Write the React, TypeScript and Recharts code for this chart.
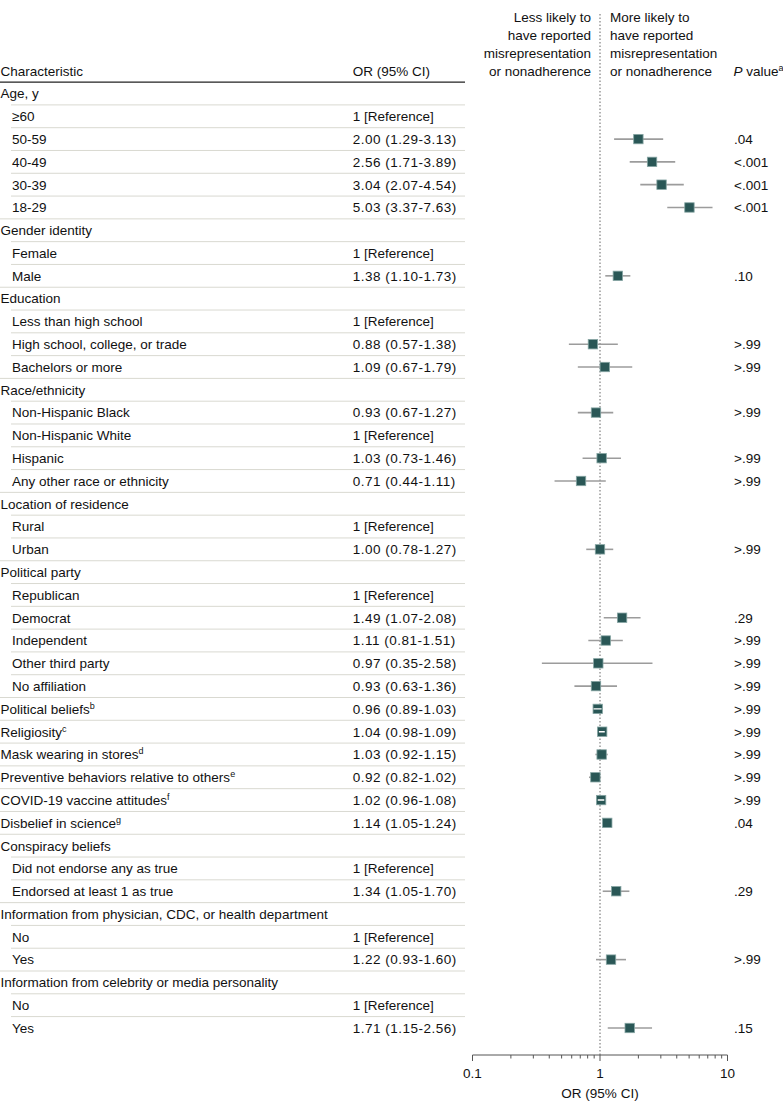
import React from 'react';
import {
  ScatterChart,
  Scatter,
  XAxis,
  YAxis,
  ErrorBar,
  ReferenceLine,
} from 'recharts';

// one entry per table row, top to bottom
const characteristics = [
  'Age, y', '≥60', '50-59', '40-49', '30-39', '18-29',
  'Gender identity', 'Female', 'Male',
  'Education', 'Less than high school', 'High school, college, or trade', 'Bachelors or more',
  'Race/ethnicity', 'Non-Hispanic Black', 'Non-Hispanic White', 'Hispanic', 'Any other race or ethnicity',
  'Location of residence', 'Rural', 'Urban',
  'Political party', 'Republican', 'Democrat', 'Independent', 'Other third party', 'No affiliation',
  'Political beliefs', 'Religiosity', 'Mask wearing in stores', 'Preventive behaviors relative to others',
  'COVID-19 vaccine attitudes', 'Disbelief in science',
  'Conspiracy beliefs', 'Did not endorse any as true', 'Endorsed at least 1 as true',
  'Information from physician, CDC, or health department', 'No', 'Yes',
  'Information from celebrity or media personality', 'No', 'Yes',
];

// 0 = group heading / stand-alone item, 1 = sub item
const levels = [
  0, 1, 1, 1, 1, 1,
  0, 1, 1,
  0, 1, 1, 1,
  0, 1, 1, 1, 1,
  0, 1, 1,
  0, 1, 1, 1, 1, 1,
  0, 0, 0, 0, 0, 0,
  0, 1, 1,
  0, 1, 1,
  0, 1, 1,
];

const footnotes: Record<number, string> = { 27: 'b', 28: 'c', 29: 'd', 30: 'e', 31: 'f', 32: 'g' };

const orLabels = [
  '', '1 [Reference]', '2.00 (1.29-3.13)', '2.56 (1.71-3.89)', '3.04 (2.07-4.54)', '5.03 (3.37-7.63)',
  '', '1 [Reference]', '1.38 (1.10-1.73)',
  '', '1 [Reference]', '0.88 (0.57-1.38)', '1.09 (0.67-1.79)',
  '', '0.93 (0.67-1.27)', '1 [Reference]', '1.03 (0.73-1.46)', '0.71 (0.44-1.11)',
  '', '1 [Reference]', '1.00 (0.78-1.27)',
  '', '1 [Reference]', '1.49 (1.07-2.08)', '1.11 (0.81-1.51)', '0.97 (0.35-2.58)', '0.93 (0.63-1.36)',
  '0.96 (0.89-1.03)', '1.04 (0.98-1.09)', '1.03 (0.92-1.15)', '0.92 (0.82-1.02)', '1.02 (0.96-1.08)', '1.14 (1.05-1.24)',
  '', '1 [Reference]', '1.34 (1.05-1.70)',
  '', '1 [Reference]', '1.22 (0.93-1.60)',
  '', '1 [Reference]', '1.71 (1.15-2.56)',
];

const pValues = [
  '', '', '.04', '<.001', '<.001', '<.001',
  '', '', '.10',
  '', '', '>.99', '>.99',
  '', '>.99', '', '>.99', '>.99',
  '', '', '>.99',
  '', '', '.29', '>.99', '>.99', '>.99',
  '>.99', '>.99', '>.99', '>.99', '>.99', '.04',
  '', '', '.29',
  '', '', '>.99',
  '', '', '.15',
];

const oddsRatios: (number | null)[] = [
  null, null, 2.0, 2.56, 3.04, 5.03,
  null, null, 1.38,
  null, null, 0.88, 1.09,
  null, 0.93, null, 1.03, 0.71,
  null, null, 1.0,
  null, null, 1.49, 1.11, 0.97, 0.93,
  0.96, 1.04, 1.03, 0.92, 1.02, 1.14,
  null, null, 1.34,
  null, null, 1.22,
  null, null, 1.71,
];

const ciLower: (number | null)[] = [
  null, null, 1.29, 1.71, 2.07, 3.37,
  null, null, 1.1,
  null, null, 0.57, 0.67,
  null, 0.67, null, 0.73, 0.44,
  null, null, 0.78,
  null, null, 1.07, 0.81, 0.35, 0.63,
  0.89, 0.98, 0.92, 0.82, 0.96, 1.05,
  null, null, 1.05,
  null, null, 0.93,
  null, null, 1.15,
];

const ciUpper: (number | null)[] = [
  null, null, 3.13, 3.89, 4.54, 7.63,
  null, null, 1.73,
  null, null, 1.38, 1.79,
  null, 1.27, null, 1.46, 1.11,
  null, null, 1.27,
  null, null, 2.08, 1.51, 2.58, 1.36,
  1.03, 1.09, 1.15, 1.02, 1.08, 1.24,
  null, null, 1.7,
  null, null, 1.6,
  null, null, 2.56,
];

const xTicks = [0.1, 0.2, 0.3, 0.4, 0.5, 0.6, 0.7, 0.8, 0.9, 1, 2, 3, 4, 5, 6, 7, 8, 9, 10];
const majorTicks = [0.1, 1, 10];

const FONT = "'Liberation Sans', Arial, sans-serif";
const FS = 13.5;
const MARK = '#2a5756';

const points = oddsRatios
  .map((or, i) => ({ or, lo: ciLower[i], hi: ciUpper[i], row: i }))
  .filter((d) => d.or !== null)
  .map((d) => ({
    x: d.or as number,
    y: d.row,
    lo: d.lo as number,
    hi: d.hi as number,
    err: [(d.or as number) - (d.lo as number), (d.hi as number) - (d.or as number)],
    // CI short enough to sit inside the square -> drawn in white on top
    narrow: (d.hi as number) / (d.lo as number) < 1.17,
  }));

const narrowSegments = points
  .filter((p) => p.narrow)
  .map((p) => [
    { x: p.lo, y: p.y },
    { x: p.hi, y: p.y },
  ]);

const rowIdx = characteristics.map((_, i) => i);

const RowTick = (props: any) => {
  const { y, payload } = props;
  const i = payload.value as number;
  const sub = levels[i] === 1;
  const lineY = y - 11.4;
  const sup = footnotes[i];
  return (
    <g fontFamily={FONT} fontSize={FS} fill="#111">
      {i === 0 ? (
        <line x1={0} x2={465} y1={lineY} y2={lineY} stroke="#222" strokeWidth={1.4} />
      ) : (
        <line x1={sub ? 11 : 0} x2={465} y1={lineY} y2={lineY} stroke="#d9d9d1" strokeWidth={1} />
      )}
      <text x={sub ? 12 : 0.5} y={y} dy="0.36em" textAnchor="start">
        {characteristics[i]}
        {sup && (
          <tspan fontSize={9} dy={-5}>
            {sup}
          </tspan>
        )}
      </text>
      <text
        x={352.7}
        y={y}
        dy="0.36em"
        textAnchor="start"
        letterSpacing={orLabels[i].includes('Reference') ? 0 : 0.5}
      >
        {orLabels[i]}
      </text>
      <text x={734} y={y} dy="0.36em" textAnchor="start">
        {pValues[i]}
      </text>
    </g>
  );
};

const OrTick = (props: any) => {
  const { x, y, payload } = props;
  const v = payload.value as number;
  const major = majorTicks.includes(v);
  return (
    <g>
      <line x1={x} x2={x} y1={y} y2={y + (major ? 6 : 3.5)} stroke="#555" strokeWidth={1} />
      {major && (
        <text x={x} y={y + 18} dy="0.36em" textAnchor="middle" fontFamily={FONT} fontSize={FS} fill="#111">
          {v}
        </text>
      )}
    </g>
  );
};

const SquareMark = (props: any) => {
  const { cx, cy } = props;
  if (cx == null || cy == null) return <g />;
  return <rect x={cx - 4.7} y={cy - 4.7} width={9.4} height={9.4} fill={MARK} stroke="#86a5a3" strokeWidth={0.8} />;
};

const Empty = () => <g />;

const headerLeft = ['Less likely to', 'have reported', 'misrepresentation', 'or nonadherence'];
const headerRight = ['More likely to', 'have reported', 'misrepresentation', 'or nonadherence'];
const headerY = [17.5, 35.3, 53.1, 71];

export default function App() {
  return (
    <div style={{ position: 'absolute', left: 0, top: 0, width: 783, height: 1110, background: '#fff' }}>
      <ScatterChart width={783} height={1110} margin={{ top: 12, right: 55.5, bottom: 25, left: 0 }}>
        <XAxis
          dataKey="x"
          type="number"
          scale="log"
          domain={[0.1, 10]}
          allowDataOverflow
          ticks={xTicks}
          interval={0}
          height={30}
          tickSize={0}
          tickMargin={0}
          tickLine={false}
          axisLine={{ stroke: '#555', strokeWidth: 1 }}
          tick={<OrTick />}
        />
        <YAxis
          dataKey="y"
          type="number"
          domain={[-3.576, 42.185]}
          allowDataOverflow
          reversed
          ticks={rowIdx}
          interval={0}
          width={472.5}
          axisLine={false}
          tickLine={false}
          tick={<RowTick />}
        />
        <ReferenceLine x={1} stroke="#666" strokeDasharray="1.5 2" strokeWidth={1} />
        <Scatter data={points} shape={<SquareMark />} isAnimationActive={false}>
          <ErrorBar dataKey="err" direction="x" width={0} stroke="#9c9c9c" strokeWidth={1.6} isAnimationActive={false} />
        </Scatter>
        {narrowSegments.map((seg, k) => (
          <Scatter
            key={k}
            data={seg}
            line={{ stroke: '#ffffff', strokeWidth: 1.4 }}
            shape={<Empty />}
            isAnimationActive={false}
          />
        ))}
      </ScatterChart>
      <svg
        width={783}
        height={1110}
        style={{ position: 'absolute', left: 0, top: 0, pointerEvents: 'none' }}
        fontFamily={FONT}
        fontSize={FS}
        fill="#111"
      >
        <text x={0.5} y={71} dy="0.36em">Characteristic</text>
        <text x={352.7} y={71} dy="0.36em">OR (95% CI)</text>
        {headerLeft.map((t, k) => (
          <text key={'l' + k} x={591} y={headerY[k]} dy="0.36em" textAnchor="end">
            {t}
          </text>
        ))}
        {headerRight.map((t, k) => (
          <text key={'r' + k} x={610} y={headerY[k]} dy="0.36em">
            {t}
          </text>
        ))}
        <text x={733.5} y={71} dy="0.36em">
          <tspan fontStyle="italic">P</tspan> value
          <tspan fontSize={9} dy={-5}>a</tspan>
        </text>
        <text x={600} y={1093} dy="0.36em" textAnchor="middle">OR (95% CI)</text>
      </svg>
    </div>
  );
}
